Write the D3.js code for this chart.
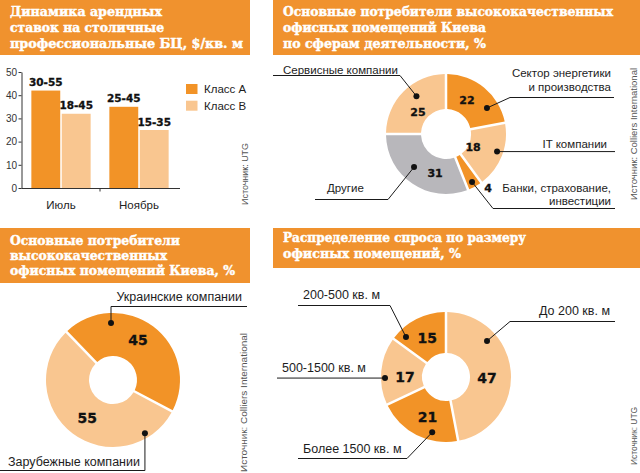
<!DOCTYPE html>
<html>
<head>
<meta charset="utf-8">
<script src="https://cdn.jsdelivr.net/npm/d3@7"></script>
<style>
  body { margin: 0; background: #fff; }
  svg { display: block; }
  text { font-family: "Liberation Sans", Arial, sans-serif; fill: #1d1d1d; }
  .ttl { font-family: "DejaVu Serif", serif; font-weight: bold; font-size: 13px; fill: #fff; stroke: #fff; stroke-width: 0.45px; }
  .num { font-family: "DejaVu Sans", sans-serif; font-weight: bold; fill: #111; stroke: #111; stroke-width: 0.3px; }
  .src { font-size: 9.5px; fill: #555; }
</style>
</head>
<body>
<svg id="chart" width="640" height="473"></svg>
<script>
// ---- data ----
const months = ["Июль", "Ноябрь"];
const classes = ["Класс А", "Класс В"];
const rentA = [42, 35];
const rentB = [32, 25];
const rangeA = ["30-55", "25-45"];
const rangeB = ["18-45", "15-35"];
const rentTicks = [0, 10, 20, 30, 40, 50];

const sectorNames = [["Сектор энергетики", "и производства"], ["IT компании"], ["Банки, страхование,", "инвестиции"], ["Другие"], ["Сервисные компании"]];
const sectorShares = [22, 18, 4, 31, 25];

const originNames = [["Украинские компании"], ["Зарубежные компании"]];
const originShares = [45, 55];

const sizeNames = [["До 200 кв. м"], ["Более 1500 кв. м"], ["500-1500 кв. м"], ["200-500 кв. м"]];
const sizeShares = [47, 21, 17, 15];

const titles1 = ["Динамика арендных", "ставок на столичные", "профессиональные БЦ, $/кв. м"];
const titles2 = ["Основные потребители высококачественных", "офисных помещений Киева", "по сферам деятельности, %"];
const titles3 = ["Основные потребители", "высококачественных", "офисных помещений Киева, %"];
const titles4 = ["Распределение спроса по размеру", "офисных помещений, %"];

// ---- drawing ----
const svg = d3.select("#chart");
const col = { dark: "#F29327", light: "#F9C690", gray: "#B8B7BB", head: "#F0922E", ink: "#1a1a1a" };
const rad = d => d * Math.PI / 180;
const polar = (cx, cy, deg, r) => [cx + r * Math.sin(rad(deg)), cy - r * Math.cos(rad(deg))];

function header(box, tx, lines, bases, lens) {
    svg.append("rect").attr("x", box[0]).attr("y", box[1]).attr("width", box[2]).attr("height", box[3]).attr("fill", col.head);
    lines.forEach((t, i) => {
        svg.append("text").attr("class", "ttl").attr("x", tx).attr("y", bases[i])
            .attr("textLength", lens[i]).attr("lengthAdjust", "spacingAndGlyphs").text(t);
    });
}

function source(x, y, t, len) {
    svg.append("text").attr("class", "src").attr("transform", `translate(${x},${y}) rotate(-90)`)
        .attr("textLength", len).attr("lengthAdjust", "spacingAndGlyphs").text(t);
}

header([0, 0, 250, 55], 10, titles1, [15.5, 31.5, 47.5], [152, 154, 233]);
header([273, 0, 367, 55], 283, titles2, [15.5, 31.5, 47.5], [330, 203, 203]);
header([0, 228, 250, 55], 10, titles3, [244.5, 259.5, 274.5], [170, 157, 225]);
header([273, 228, 367, 40], 283, titles4, [242, 257.5], [243, 178]);

// bar chart
let y = d3.scaleLinear().domain([0, 50]).range([188, 72]);
let x0 = d3.scaleBand().domain(months).range([22, 178]).paddingInner(0.24).paddingOuter(0.12);
let x1 = d3.scaleBand().domain(classes).range([0, x0.bandwidth()]).paddingInner(0.05);

let yAx = svg.append("g").attr("transform", "translate(21.5,0)")
    .call(d3.axisLeft(y).tickValues(rentTicks).tickSize(3).tickSizeOuter(0).tickPadding(1.5));
yAx.selectAll("text").style("font-size", "10px").style("fill", "#333").style("font-family", "Liberation Sans, Arial");
yAx.selectAll("line, path").attr("stroke", "#333");

let xAx = svg.append("g").attr("transform", "translate(0,188.5)")
    .call(d3.axisBottom(x0).tickSize(0).tickPadding(12));
xAx.select("path").attr("d", "M21.5,0H180").attr("stroke", "#333");
xAx.selectAll("text").style("font-size", "11.5px").style("fill", "#222").style("font-family", "Liberation Sans, Arial");
let midX = (x0(months[0]) + x0.bandwidth() + x0(months[1])) / 2;
svg.append("line").attr("x1", midX).attr("x2", midX).attr("y1", 188.5).attr("y2", 191.5).attr("stroke", "#333");

let barData = months.map((m, i) => [
    { m, c: classes[0], v: rentA[i], r: rangeA[i], f: col.dark },
    { m, c: classes[1], v: rentB[i], r: rangeB[i], f: col.light }
]).flat();

svg.selectAll(".bar").data(barData).join("rect").attr("class", "bar")
    .attr("x", d => x0(d.m) + x1(d.c)).attr("width", x1.bandwidth())
    .attr("y", d => y(d.v)).attr("height", d => y(0) - y(d.v)).attr("fill", d => d.f);

svg.selectAll(".blab").data(barData).join("text").attr("class", "blab num")
    .attr("x", d => x0(d.m) + x1(d.c) + x1.bandwidth() / 2).attr("y", d => y(d.v) - 4.5)
    .attr("text-anchor", "middle").style("font-size", "10.5px").text(d => d.r);

classes.forEach((c, i) => {
    svg.append("rect").attr("x", 186).attr("y", 84 + i * 16.7).attr("width", 11.5).attr("height", 10)
        .attr("fill", i ? col.light : col.dark);
    svg.append("text").attr("x", 204).attr("y", 93 + i * 16.7).style("font-size", "11.5px").text(c);
});
source(248, 205, "Источник: UTG", 62);

// donuts
function donut(cx, cy, rIn, rOut, startDeg, values, colors, valPos, valSize) {
    let pie = d3.pie().sort(null).value(d => d).startAngle(rad(startDeg)).endAngle(rad(startDeg) + 2 * Math.PI);
    let arc = d3.arc().innerRadius(rIn).outerRadius(rOut).padAngle(0.028).padRadius(90);
    let g = svg.append("g").attr("transform", `translate(${cx},${cy})`);
    g.selectAll("path").data(pie(values)).join("path").attr("d", arc).attr("fill", (d, i) => colors[i]);
    values.forEach((v, i) => {
        let p = polar(cx, cy, valPos[i][0], valPos[i][1]);
        svg.append("text").attr("class", "num").attr("x", p[0]).attr("y", p[1]).attr("dy", "0.36em")
            .attr("text-anchor", "middle").style("font-size", valSize + "px").text(v);
    });
}

function callouts(cx, cy, names, specs, fs) {
    specs.forEach(s => {
        let d = polar(cx, cy, s.a, s.r);
        let pts = [d];
        s.path.forEach(p => pts.push([p[0] === null ? pts[pts.length - 1][0] : p[0], p[1] === null ? pts[pts.length - 1][1] : p[1]]));
        svg.append("path").attr("d", d3.line()(pts)).attr("fill", "none").attr("stroke", col.ink).attr("stroke-width", 1);
        svg.append("circle").attr("cx", d[0]).attr("cy", d[1]).attr("r", 3).attr("fill", "#111");
        names[s.i].forEach((t, k) => {
            svg.append("text").attr("x", s.tx).attr("y", s.ty[k]).attr("text-anchor", s.anchor)
                .style("font-size", fs + "px").text(t);
        });
    });
}

// panel 2
donut(446, 134, 25, 60, 0, sectorShares, [col.dark, col.light, col.dark, col.gray, col.light],
    [[31.7, 40], [115.7, 30], [142, 68.4], [195.7, 40.5], [308, 35.6]], 11);
callouts(446, 134, sectorNames, [
    { i: 4, a: 322, r: 48, path: [[400, 75.5], [273, 75.5]], tx: 283, ty: [73.5], anchor: "start" },
    { i: 0, a: 57.6, r: 48.5, path: [[510, 97.5], [614, 97.5]], tx: 611, ty: [77, 91], anchor: "end" },
    { i: 1, a: 109, r: 54, path: [[615, null]], tx: 607, ty: [148], anchor: "end" },
    { i: 2, a: 151.5, r: 54.6, path: [[493, 208.5], [615, 208.5]], tx: 611, ty: [192, 205], anchor: "end" },
    { i: 3, a: 224, r: 46, path: [[388, 199.5], [315, 199.5]], tx: 327, ty: [192], anchor: "start" }
], 11.5);
source(637, 200, "Источник: Colliers International", 132);

// panel 3
donut(113, 380, 24, 67, -44, originShares, [col.dark, col.light], [[32, 47], [214, 46]], 14);
callouts(113, 380, originNames, [
    { i: 0, a: -2, r: 57, path: [[null, 306.5], [247, 306.5]], tx: 242, ty: [301], anchor: "end" },
    { i: 1, a: 149, r: 62, path: [[null, 470.5], [0, 470.5]], tx: 8, ty: [466], anchor: "start" }
], 12.5);
source(247, 472, "Источник: Colliers International", 139);

// panel 4
donut(446, 377, 24, 65, 0, sizeShares, [col.light, col.dark, col.light, col.dark],
    [[91, 41], [205, 44], [270, 41], [334, 43]], 14);
callouts(446, 377, sizeNames, [
    { i: 0, a: 48.7, r: 54.6, path: [[510, 321.5], [615, 321.5]], tx: 610, ty: [315], anchor: "end" },
    { i: 1, a: 194, r: 57, path: [[407, 458.5], [298, 458.5]], tx: 303, ty: [453], anchor: "start" },
    { i: 2, a: 269, r: 61, path: [[277, null]], tx: 282, ty: [372], anchor: "start" },
    { i: 3, a: 315, r: 56.6, path: [[390, 305.5], [298, 305.5]], tx: 303, ty: [299], anchor: "start" }
], 12.5);
source(637, 465, "Источник: UTG", 58);
</script>
</body>
</html>
